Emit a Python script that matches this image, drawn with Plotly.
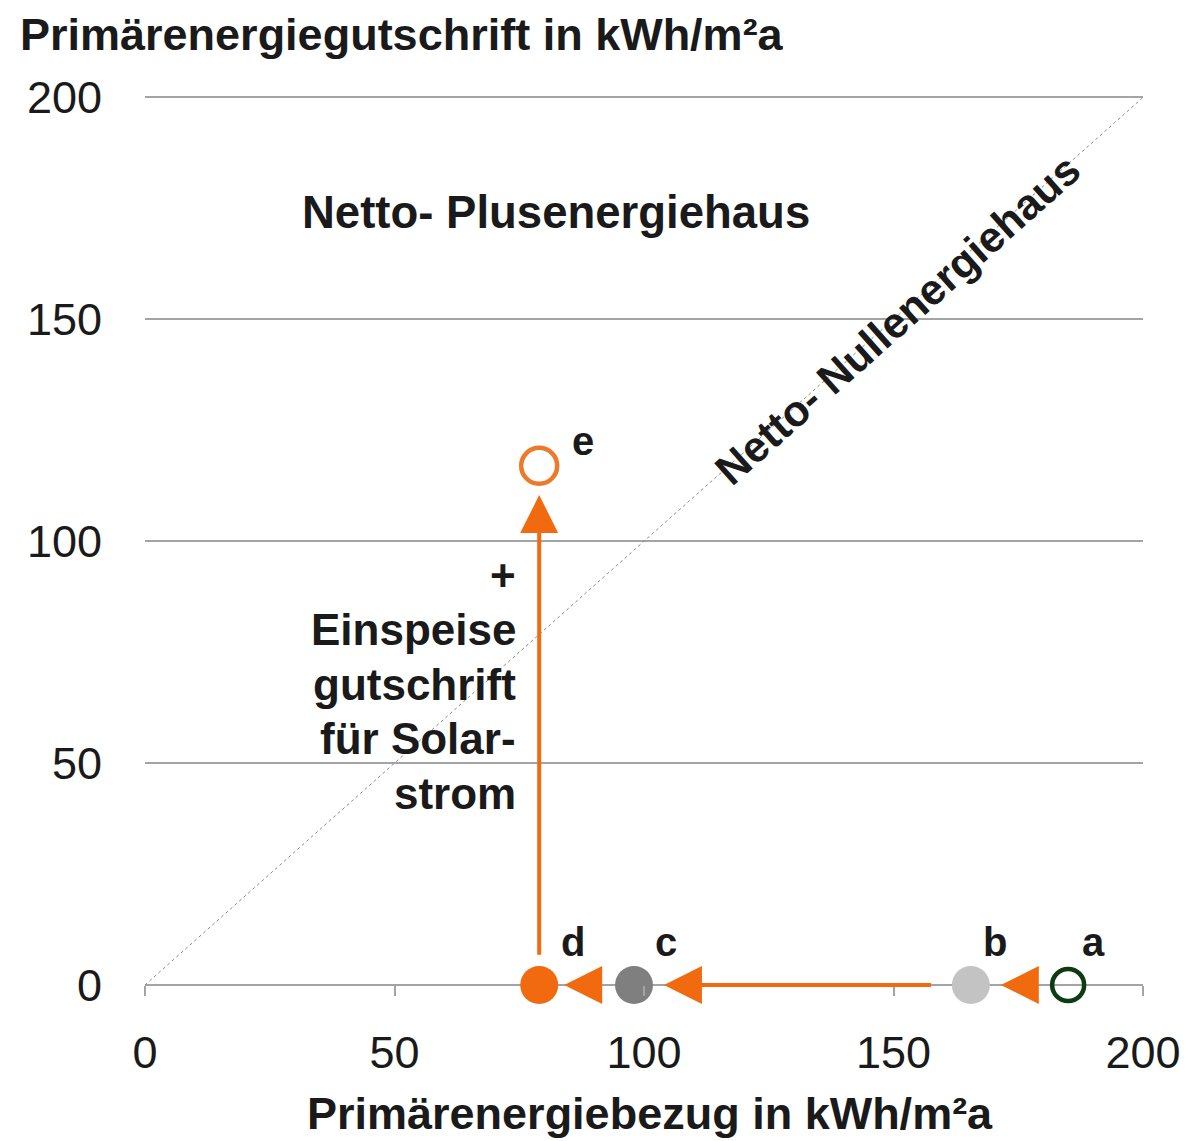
import plotly.graph_objects as go

# ---- data ----
point_labels = ["a", "b", "c", "d", "e"]
point_x = [185, 165.5, 98, 79, 79]          # Primärenergiebezug
point_y = [0, 0, 0, 0, 117]                 # Primärenergiegutschrift

arrow_tail_x = [178.8, 157.8, 91.8, 79]
arrow_tail_y = [0, 0, 0, 6.5]
arrow_tip_x = [171.5, 104.0, 84.0, 79]
arrow_tip_y = [0, 0, 0, 110.4]

diag_x = [0, 200]
diag_y = [0, 200]

tick_vals = [0, 50, 100, 150, 200]
tick_text = ["0", "50", "100", "150", "200"]

einspeise_lines = ["+", "Einspeise", "gutschrift", "für Solar-", "strom"]

# ---- styles ----
FONT = "Liberation Sans, Arial, sans-serif"
ORANGE = "#f26a10"
GRID = "#a4a4a4"
TXT = "#1a1a1a"

marker_styles = [
    dict(size=32, color="rgba(0,0,0,0)", line=dict(color="#0e3b14", width=4.5)),
    dict(size=38, color="#c3c3c3", line=dict(width=0)),
    dict(size=38, color="#7f7f7f", line=dict(width=0)),
    dict(size=38, color=ORANGE, line=dict(width=0)),
    dict(size=36, color="rgba(0,0,0,0)", line=dict(color="#ec7a2a", width=4.5)),
]
label_shift = [(25, 43), (24, 43), (32, 43), (34, 43), (44, 25)]
LINE_GAP = 54.5

fig = go.Figure()

# diagonal (Netto-Nullenergiehaus)
fig.add_trace(go.Scatter(x=diag_x, y=diag_y, mode="lines",
                         line=dict(color="#8c8c8c", width=1, dash="dot"),
                         hoverinfo="skip", showlegend=False))

# points
for i, lab in enumerate(point_labels):
    fig.add_trace(go.Scatter(x=[point_x[i]], y=[point_y[i]], mode="markers",
                             marker=marker_styles[i], cliponaxis=False,
                             showlegend=False, name=lab))

annotations = []
# arrows
for tx, ty, hx, hy in zip(arrow_tail_x, arrow_tail_y, arrow_tip_x, arrow_tip_y):
    annotations.append(dict(x=hx, y=hy, ax=tx, ay=ty, xref="x", yref="y",
                            axref="x", ayref="y", text="", showarrow=True,
                            arrowhead=2, arrowsize=1.9, arrowwidth=4,
                            arrowcolor=ORANGE))

# point labels
for i, lab in enumerate(point_labels):
    annotations.append(dict(x=point_x[i], y=point_y[i], xref="x", yref="y",
                            text="<b>%s</b>" % lab, showarrow=False,
                            xshift=label_shift[i][0], yshift=label_shift[i][1],
                            font=dict(family=FONT, size=40, color=TXT)))

# text block "+ Einspeisegutschrift für Solarstrom"
n = len(einspeise_lines)
for k, line in enumerate(einspeise_lines):
    annotations.append(dict(x=74.7, y=67.8, xref="x", yref="y", showarrow=False,
                            xanchor="right", yanchor="middle",
                            yshift=((n - 1) / 2 - k) * LINE_GAP,
                            text="<b>%s</b>" % line,
                            font=dict(family=FONT, size=44, color=TXT)))

# texts
annotations += [
    dict(x=82.4, y=174, xref="x", yref="y", showarrow=False,
         text="<b>Netto- Plusenergiehaus</b>",
         font=dict(family=FONT, size=45.5, color=TXT)),
    dict(x=150.9, y=150.1, xref="x", yref="y", showarrow=False, textangle=-41.7,
         text="<b>Netto- Nullenergiehaus</b>",
         font=dict(family=FONT, size=43, color=TXT)),
    dict(x=-0.127, y=1.0, xref="paper", yref="paper", showarrow=False,
         xanchor="left", yanchor="bottom", yshift=31,
         text="<b>Primärenergiegutschrift in kWh/m²a</b>",
         font=dict(family=FONT, size=45, color=TXT)),
    dict(x=0.506, y=0.0, xref="paper", yref="paper", showarrow=False,
         xanchor="center", yanchor="top", yshift=-101,
         text="<b>Primärenergiebezug in kWh/m²a</b>",
         font=dict(family=FONT, size=45, color=TXT)),
]

fig.update_layout(
    width=1186, height=1133,
    margin=dict(l=137, r=51, t=85, b=156, autoexpand=False),
    paper_bgcolor="white", plot_bgcolor="white",
    annotations=annotations,
    showlegend=False,
    xaxis=dict(range=[0, 200], tickvals=tick_vals, ticktext=tick_text,
               showgrid=False, zeroline=False, showline=False,
               ticks="outside", ticklen=10, tickwidth=1.5, tickcolor=GRID,
               ticklabelstandoff=18,
               tickfont=dict(family=FONT, size=45, color=TXT)),
    yaxis=dict(range=[0, 201], tickvals=tick_vals, ticktext=tick_text,
               showgrid=True, gridcolor=GRID, gridwidth=1.5,
               zeroline=True, zerolinecolor=GRID, zerolinewidth=1.5,
               showline=False, ticks="",
               ticklabelstandoff=42,
               tickfont=dict(family=FONT, size=45, color=TXT)),
)

fig.write_html("out.html")
